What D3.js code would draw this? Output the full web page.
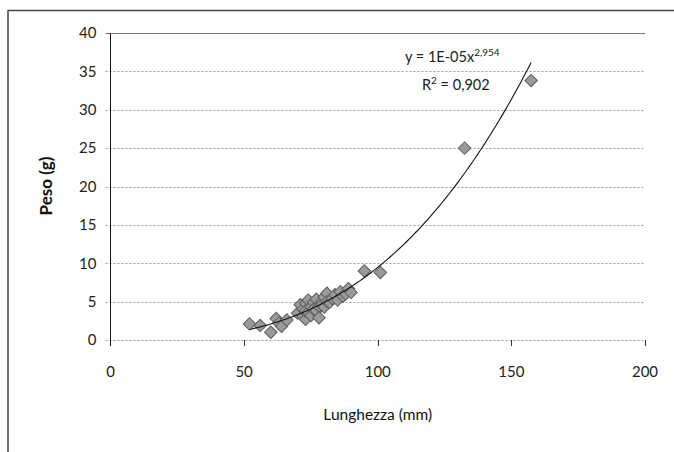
<!DOCTYPE html>
<html><head><meta charset="utf-8">
<script src="https://cdn.jsdelivr.net/npm/d3@7"></script>
<style>
html,body{margin:0;padding:0;background:#fff;}
svg{display:block;font-family:Lato,"Open Sans",sans-serif;}
</style></head>
<body><svg id="chart" width="674" height="452"></svg>
<script>
const lunghezza = [52,56,60,62,63,64,66,70,71,72,72,73,73,73,74,74,75,75,76,76,77,77,78,78,79,79,80,80,81,81,82,83,84,85,86,87,88,89,90,95,101,132.5,157.4];
const peso      = [2.1,1.9,1.0,2.8,2.2,1.8,2.6,3.5,4.6,3.1,4.0,2.7,4.8,3.8,3.6,5.2,4.3,3.2,4.9,4.0,3.8,5.3,4.4,2.9,5.0,4.6,5.6,4.3,6.1,5.0,4.9,5.4,5.9,5.2,6.3,5.7,6.0,6.7,6.2,9.0,8.8,25,33.8];
const xTicks = [0,50,100,150,200];
const yTicks = [0,5,10,15,20,25,30,35,40];
const trendA = 1.17e-5, trendB = 2.954;
const eqText = "y = 1E-05x", eqExp = "2,954", r2Text = "0,902";

const svg = d3.select("#chart");
const L = 110.5, R = 645, T = 33, B = 340;
const x = d3.scaleLinear().domain([0,200]).range([L,R]);
const y = d3.scaleLinear().domain([0,40]).range([B,T]);

svg.append("path").attr("d","M8,452 V10.5 H674").attr("fill","none").attr("stroke","#444").attr("stroke-width",1.5);

svg.append("g").selectAll("line").data(yTicks).join("line")
  .attr("x1",L-5).attr("x2",R).attr("y1",d=>Math.round(y(d))+0.5).attr("y2",d=>Math.round(y(d))+0.5)
  .attr("stroke",d=>d===40?"#777":"#999").attr("stroke-width",1)
  .attr("stroke-dasharray",d=>d===40?null:"2,2");

svg.append("line").attr("x1",L).attr("x2",L).attr("y1",T).attr("y2",B+6).attr("stroke","#111").attr("stroke-width",1);

svg.append("g").selectAll("line").data(xTicks.slice(1)).join("line")
  .attr("x1",d=>Math.round(x(d))+0.5).attr("x2",d=>Math.round(x(d))+0.5).attr("y1",B).attr("y2",B+6)
  .attr("stroke","#333").attr("stroke-width",1);

svg.append("g").selectAll("text").data(yTicks).join("text")
  .attr("x",L-14).attr("y",d=>y(d)).attr("dy","0.35em").attr("text-anchor","end")
  .attr("font-size",15).attr("fill","#222").text(d=>d);
svg.append("g").selectAll("text").data(xTicks).join("text")
  .attr("x",d=>x(d)).attr("y",B+32).attr("dy","0.35em").attr("text-anchor","middle")
  .attr("font-size",15).attr("fill","#222").text(d=>d);

svg.append("text").attr("x",(L+R)/2).attr("y",415).attr("dy","0.35em").attr("text-anchor","middle")
  .attr("font-size",15.5).attr("fill","#111").text("Lunghezza (mm)");
svg.append("text").attr("transform","translate(46,186) rotate(-90)").attr("dy","0.35em").attr("text-anchor","middle")
  .attr("font-size",17).attr("font-weight","bold").attr("fill","#111").text("Peso (g)");

const pts = lunghezza.map((v,i)=>[v,peso[i]]);
const sym = d3.symbol().type(d3.symbolSquare).size(78);
svg.append("g").selectAll("path").data(pts).join("path")
  .attr("d",sym).attr("transform",d=>`translate(${x(d[0])},${y(d[1])}) rotate(45)`)
  .attr("fill","#9a9a9a").attr("stroke","#5e5e5e").attr("stroke-width",1);

const xmin = d3.min(lunghezza), xmax = d3.max(lunghezza);
const tx = d3.range(xmin, xmax+0.01, (xmax-xmin)/120);
svg.append("path").datum(tx)
  .attr("d",d3.line().x(d=>x(d)).y(d=>y(trendA*Math.pow(d,trendB))))
  .attr("fill","none").attr("stroke","#111").attr("stroke-width",1.1);

const eq = svg.append("text").attr("x",405).attr("y",62).attr("font-size",14.5).attr("fill","#222");
eq.append("tspan").text(eqText);
eq.append("tspan").attr("dy",-6).attr("font-size",10).text(eqExp);
const r2 = svg.append("text").attr("x",422).attr("y",90).attr("font-size",14.5).attr("fill","#222");
r2.append("tspan").text("R");
r2.append("tspan").attr("dy",-6).attr("font-size",10).text("2");
r2.append("tspan").attr("dy",6).text(" = " + r2Text);
</script></body></html>
